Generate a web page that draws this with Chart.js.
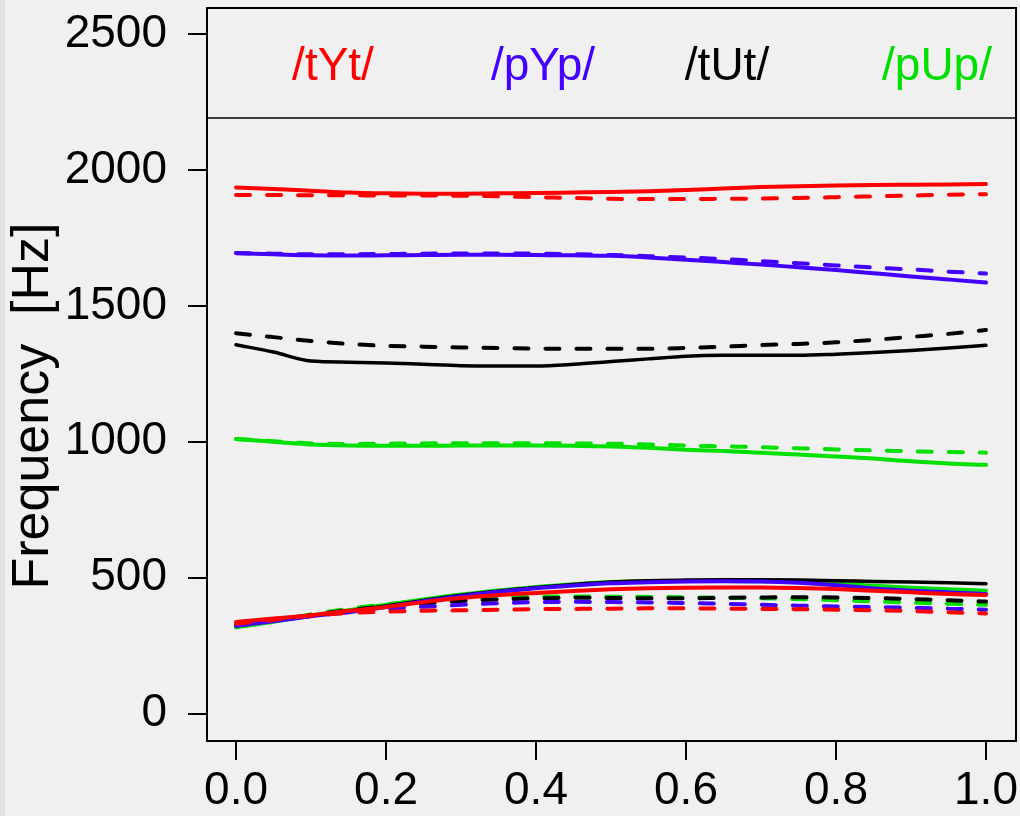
<!DOCTYPE html>
<html>
<head>
<meta charset="utf-8">
<script src="https://cdn.jsdelivr.net/npm/chart.js@4.4.1/dist/chart.umd.min.js"></script>
<style>
  html, body { margin: 0; padding: 0; background: #f0f0f0; }
  #wrap { width: 1020px; height: 816px; position: relative; }
</style>
</head>
<body>
<div id="wrap"><canvas id="chart"></canvas></div>
<script>
// Formant trajectories, normalised time 0..1
const times = [0, 0.05, 0.1, 0.15, 0.2, 0.25, 0.3, 0.35, 0.4, 0.45, 0.5,
  0.55, 0.6, 0.65, 0.7, 0.75, 0.8, 0.85, 0.9, 0.95, 1.0];
const xTicks = [0, 0.2, 0.4, 0.6, 0.8, 1.0];
const yTicks = [0, 500, 1000, 1500, 2000, 2500];
const legendLabels = ["/tYt/", "/pYp/", "/tUt/", "/pUp/"];
const yTitle = "Frequency  [Hz]";

// /tYt/
const tYtSolidF2 = [1936, 1930, 1924, 1917, 1914, 1913, 1913, 1914, 1915, 1917, 1919, 1922, 1926, 1932, 1937, 1940, 1943, 1945, 1946, 1947, 1948];
const tYtDashedF2 = [1908, 1908, 1907, 1907, 1906, 1906, 1905, 1903, 1900, 1897, 1894, 1893, 1893, 1894, 1895, 1897, 1900, 1903, 1906, 1909, 1911];
const tYtSolidF1 = [337, 350, 362, 378, 392, 410, 425, 436, 444, 451, 457, 461, 463, 464, 464, 462, 458, 452, 446, 440, 436];
const tYtDashedF1 = [330, 345, 360, 370, 375, 378, 380, 382, 384, 385, 386, 387, 387, 386, 385, 384, 382, 380, 377, 373, 368];

// /pYp/
const pYpSolidF2 = [1694, 1690, 1686, 1685, 1686, 1687, 1688, 1688, 1687, 1686, 1684, 1678, 1670, 1661, 1652, 1642, 1632, 1620, 1608, 1597, 1586];
const pYpDashedF2 = [1695, 1692, 1690, 1690, 1691, 1692, 1693, 1693, 1692, 1690, 1687, 1683, 1678, 1672, 1665, 1657, 1649, 1641, 1634, 1626, 1619];
const pYpSolidF1 = [325, 340, 358, 373, 392, 413, 432, 448, 461, 471, 479, 483, 486, 487, 486, 481, 472, 460, 452, 446, 440];
const pYpDashedF1 = [322, 342, 360, 375, 386, 393, 400, 406, 410, 411, 410, 409, 407, 404, 400, 397, 394, 392, 389, 386, 382];

// /tUt/
const tUtSolidF2 = [1357, 1330, 1297, 1293, 1290, 1285, 1280, 1279, 1279, 1285, 1295, 1305, 1315, 1318, 1318, 1318, 1322, 1328, 1336, 1345, 1355];
const tUtDashedF2 = [1399, 1385, 1371, 1360, 1353, 1350, 1347, 1345, 1343, 1342, 1342, 1342, 1345, 1350, 1356, 1360, 1366, 1375, 1386, 1397, 1411];
const tUtSolidF1 = [325, 342, 360, 377, 396, 416, 435, 451, 464, 475, 484, 489, 491, 492, 492, 491, 489, 486, 484, 481, 478];
const tUtDashedF1 = [325, 343, 362, 380, 395, 406, 414, 420, 424, 426, 425, 424, 424, 426, 427, 428, 427, 425, 421, 417, 412];

// /pUp/
const pUpSolidF2 = [1010, 1000, 990, 986, 985, 985, 986, 986, 986, 985, 983, 978, 971, 966, 960, 953, 946, 938, 928, 920, 915];
const pUpDashedF2 = [1010, 1002, 994, 992, 993, 994, 995, 995, 995, 994, 993, 990, 986, 983, 980, 976, 972, 968, 965, 962, 960];
const pUpSolidF1 = [317, 338, 360, 380, 400, 420, 438, 453, 466, 476, 484, 487, 488, 488, 487, 484, 478, 470, 463, 457, 452];
const pUpDashedF1 = [320, 342, 365, 385, 402, 414, 422, 428, 430, 431, 430, 429, 428, 426, 424, 421, 417, 413, 408, 404, 400];

const colors = ["#ff0000", "#4400ff", "#000000", "#00e000"];
const series = [
  [tYtSolidF1, tYtSolidF2, tYtDashedF1, tYtDashedF2],
  [pYpSolidF1, pYpSolidF2, pYpDashedF1, pYpDashedF2],
  [tUtSolidF1, tUtSolidF2, tUtDashedF1, tUtDashedF2],
  [pUpSolidF1, pUpSolidF2, pUpDashedF1, pUpDashedF2],
];

const FONT = "'Liberation Sans', Arial, Helvetica, sans-serif";

function toPoints(vals) {
  return vals.map((v, i) => ({ x: times[i], y: v }));
}

const datasets = [];
series.forEach((group, w) => {
  group.forEach((vals, k) => {
    const dashed = k >= 2;
    datasets.push({
      label: legendLabels[w] + (dashed ? " dashed" : " solid") + (k % 2 ? " F2" : " F1"),
      data: toPoints(vals),
      borderColor: colors[w],
      borderWidth: w === 2 && !dashed ? 3.5 : 4,
      borderDash: dashed ? [14, 17] : [],
      borderCapStyle: "round",
      pointRadius: 0,
      cubicInterpolationMode: "monotone",
      fill: false,
    });
  });
});

const framePlugin = {
  id: "frame",
  beforeDraw(chart) {
    const ctx = chart.ctx;
    ctx.save();
    ctx.fillStyle = "#f0f0f0";
    ctx.fillRect(0, 0, chart.width, chart.height);
    ctx.fillStyle = "#e2e2e2";
    ctx.fillRect(0, 0, 5, chart.height);
    ctx.restore();
  },
  afterDraw(chart) {
    const ctx = chart.ctx;
    const a = chart.chartArea;
    ctx.save();
    ctx.strokeStyle = "#000";
    ctx.lineWidth = 2;
    ctx.strokeRect(a.left, a.top, a.right - a.left, a.bottom - a.top);
    // legend box along the top of the plot
    ctx.lineWidth = 1.5;
    ctx.beginPath();
    ctx.moveTo(a.left, 118);
    ctx.lineTo(a.right, 118);
    ctx.stroke();
    ctx.font = "46px " + FONT;
    ctx.textAlign = "center";
    ctx.textBaseline = "alphabetic";
    const centers = [333, 543, 727, 937];
    legendLabels.forEach((t, i) => {
      ctx.fillStyle = colors[i];
      ctx.fillText(t, centers[i], 80);
    });
    // y axis title
    ctx.fillStyle = "#000";
    ctx.font = "52px " + FONT;
    ctx.translate(34, 406);
    ctx.rotate(-Math.PI / 2);
    ctx.textBaseline = "middle";
    ctx.fillText(yTitle, 0, 0);
    ctx.restore();
  },
};

new Chart(document.getElementById("chart"), {
  type: "line",
  data: { datasets },
  plugins: [framePlugin],
  options: {
    responsive: true,
    maintainAspectRatio: false,
    animation: false,
    layout: { padding: { top: 8, right: 4, left: 0, bottom: 0 } },
    plugins: { legend: { display: false }, tooltip: { enabled: false } },
    scales: {
      x: {
        type: "linear",
        min: -0.0387,
        max: 1.04,
        afterFit: (s) => { s.height = 75; s.paddingLeft = 0; s.paddingRight = 0; },
        afterBuildTicks: (s) => { s.ticks = xTicks.map((v) => ({ value: v })); },
        border: { display: false },
        grid: { drawOnChartArea: false, drawTicks: true, tickLength: 19, color: "#000", lineWidth: 2 },
        ticks: {
          color: "#000",
          font: { family: FONT, size: 46 },
          padding: 4,
          maxRotation: 0,
          autoSkip: false,
          callback: (v) => Number(v).toFixed(1),
        },
      },
      y: {
        type: "linear",
        min: -101,
        max: 2596,
        afterFit: (s) => { s.width = 207; s.paddingTop = 0; s.paddingBottom = 0; },
        afterBuildTicks: (s) => { s.ticks = yTicks.map((v) => ({ value: v })); },
        border: { display: false },
        grid: { drawOnChartArea: false, drawTicks: true, tickLength: 19, color: "#000", lineWidth: 2 },
        ticks: {
          color: "#000",
          font: { family: FONT, size: 46 },
          padding: 21,
          autoSkip: false,
          callback: (v) => String(v),
        },
      },
    },
  },
});
</script>
</body>
</html>
